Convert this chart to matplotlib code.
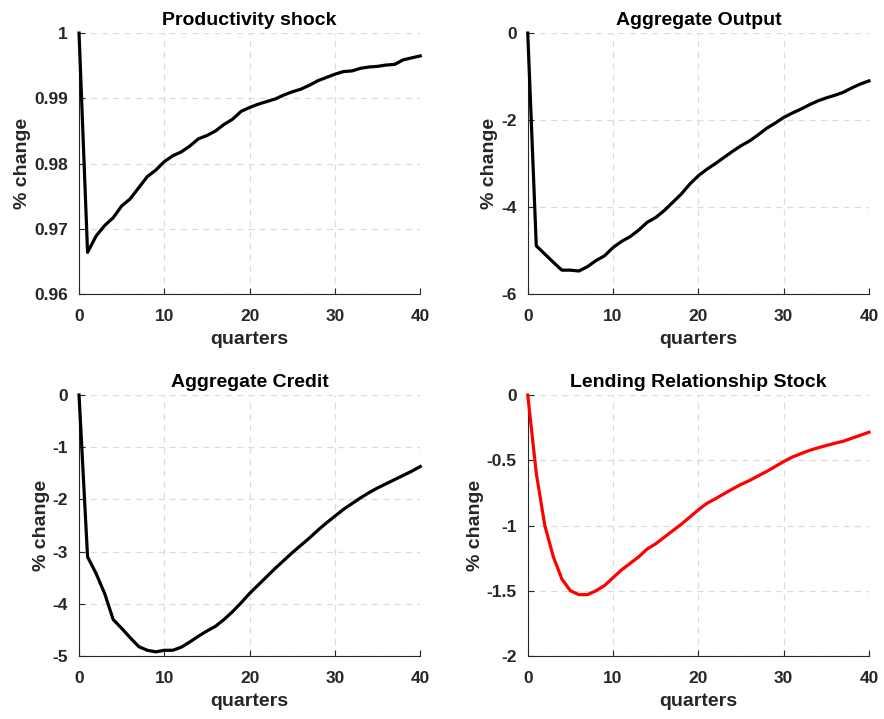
import numpy as np
import matplotlib
matplotlib.use("Agg")
from matplotlib import pyplot as plt

plt.rcParams['font.family'] = ['Liberation Sans', 'DejaVu Sans']
plt.rcParams['font.weight'] = 'bold'

quarters = np.arange(0, 41)

productivity = [1.0, 0.9664, 0.9689, 0.9705, 0.9717, 0.9735, 0.9746, 0.9763, 0.9780, 0.9790,
                0.9803, 0.9812, 0.9818, 0.9827, 0.9838, 0.9843, 0.9850, 0.9860, 0.9868, 0.9880,
                0.9886, 0.9891, 0.9895, 0.9899, 0.9905, 0.9910, 0.9914, 0.9920, 0.9927, 0.9932,
                0.9937, 0.9941, 0.9942, 0.9946, 0.9948, 0.9949, 0.9951, 0.9952, 0.9959, 0.9962,
                0.9965]

output = [0.0, -4.89, -5.08, -5.27, -5.45, -5.45, -5.47, -5.37, -5.23, -5.12,
          -4.93, -4.79, -4.68, -4.53, -4.35, -4.24, -4.08, -3.89, -3.70, -3.47,
          -3.28, -3.13, -3.00, -2.86, -2.72, -2.59, -2.48, -2.34, -2.19, -2.07,
          -1.94, -1.84, -1.75, -1.65, -1.56, -1.49, -1.43, -1.36, -1.26, -1.17,
          -1.10]

credit = [0.0, -3.10, -3.42, -3.80, -4.30, -4.47, -4.65, -4.82, -4.89, -4.92,
          -4.89, -4.89, -4.83, -4.73, -4.62, -4.52, -4.43, -4.30, -4.15, -3.98,
          -3.80, -3.64, -3.48, -3.32, -3.17, -3.02, -2.88, -2.74, -2.59, -2.45,
          -2.32, -2.19, -2.08, -1.97, -1.87, -1.78, -1.70, -1.62, -1.54, -1.46,
          -1.37]

relationships = [0.0, -0.60, -1.00, -1.24, -1.41, -1.50, -1.53, -1.53, -1.50, -1.46,
                 -1.40, -1.34, -1.29, -1.24, -1.18, -1.14, -1.09, -1.04, -0.99, -0.935,
                 -0.88, -0.83, -0.795, -0.757, -0.72, -0.685, -0.655, -0.62, -0.586, -0.548,
                 -0.51, -0.476, -0.45, -0.425, -0.405, -0.387, -0.37, -0.354, -0.331, -0.308,
                 -0.285]

panels = [
    ("Productivity shock", productivity, 'black', (0.96, 1.0), [0.96, 0.97, 0.98, 0.99, 1.0],
     ['0.96', '0.97', '0.98', '0.99', '1']),
    ("Aggregate Output", output, 'black', (-6, 0), [-6, -4, -2, 0], ['-6', '-4', '-2', '0']),
    ("Aggregate Credit", credit, 'black', (-5, 0), [-5, -4, -3, -2, -1, 0],
     ['-5', '-4', '-3', '-2', '-1', '0']),
    ("Lending Relationship Stock", relationships, 'red', (-2, 0), [-2, -1.5, -1, -0.5, 0],
     ['-2', '-1.5', '-1', '-0.5', '0']),
]

positions = [
    [0.0894, 0.591, 0.386, 0.363],
    [0.597, 0.591, 0.386, 0.363],
    [0.0894, 0.0876, 0.386, 0.363],
    [0.597, 0.0876, 0.386, 0.363],
]

fig = plt.figure(figsize=(8.84, 7.19), dpi=100)
axis_color = '#262626'

for pos, (title, y, color, ylim, yticks, ylabels) in zip(positions, panels):
    ax = fig.add_axes(pos)
    ax.plot(quarters, y, color=color, linewidth=2.3, zorder=3, clip_on=False)
    ax.set_xlim(0, 40)
    ax.set_ylim(*ylim)
    ax.set_xticks([0, 10, 20, 30, 40])
    ax.set_yticks(yticks)
    ax.set_yticklabels(ylabels)
    ax.grid(True, linestyle=(0, (5, 4)), color='#dcdcdc', linewidth=0.9)
    ax.spines['top'].set_visible(False)
    ax.spines['right'].set_visible(False)
    for s in ['left', 'bottom']:
        ax.spines[s].set_color(axis_color)
        ax.spines[s].set_linewidth(0.8)
    ax.tick_params(direction='in', length=4, width=0.8, colors=axis_color,
                   labelsize=12.5, labelcolor=axis_color)
    ax.tick_params(axis='x', pad=11)
    ax.tick_params(axis='y', pad=8)
    for lab in ax.get_xticklabels() + ax.get_yticklabels():
        lab.set_fontweight('bold')
    ax.set_title(title, fontsize=14, fontweight='bold', pad=6)
    ax.set_xlabel('quarters', fontsize=14, fontweight='bold', color=axis_color, labelpad=5)
    ax.set_ylabel('% change', fontsize=14, fontweight='bold', color=axis_color, labelpad=2)

fig.savefig('out.png', dpi=100)
